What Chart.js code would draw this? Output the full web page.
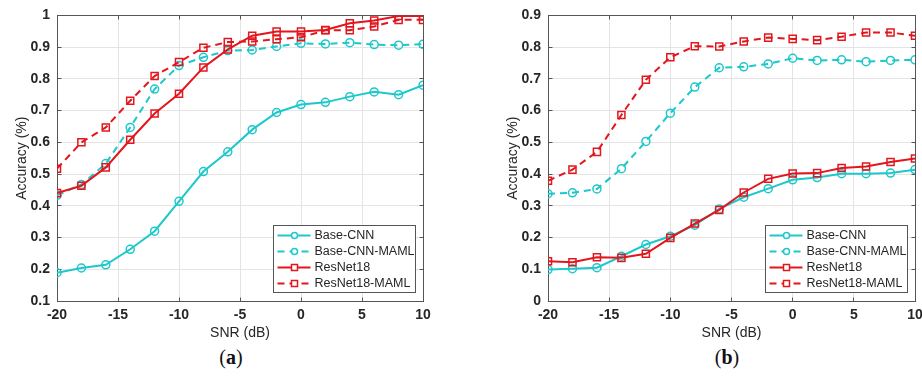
<!DOCTYPE html>
<html>
<head>
<meta charset="utf-8">
<script src="https://cdn.jsdelivr.net/npm/chart.js@4.4.1/dist/chart.umd.min.js"></script>
<style>
  body { margin: 0; background: #fff; }
  #page { position: relative; width: 922px; height: 382px; overflow: hidden; background: #fff; }
  canvas { position: absolute; top: 0; }
  #chartA { left: 0; }
  #chartB { left: 491px; }
  .cap { position: absolute; top: 347px; width: 60px; margin-left: -30px; text-align: center;
         font: 20px/20px "Liberation Serif", "DejaVu Serif", serif; color: #111; }
</style>
</head>
<body>
<div id="page">
  <canvas id="chartA" width="440" height="345"></canvas>
  <canvas id="chartB" width="440" height="345"></canvas>
  <div class="cap" style="left:231px">(<b>a</b>)</div>
  <div class="cap" style="left:727px">(<b>b</b>)</div>
</div>
<script>
// x values (SNR in dB) and axis ticks
var snr = [-20, -18, -16, -14, -12, -10, -8, -6, -4, -2, 0, 2, 4, 6, 8, 10];
var xTicks = [-20, -15, -10, -5, 0, 5, 10];
var yTicksA = [0.1, 0.2, 0.3, 0.4, 0.5, 0.6, 0.7, 0.8, 0.9, 1];
var yLabelsA = ['0.1', '0.2', '0.3', '0.4', '0.5', '0.6', '0.7', '0.8', '0.9', '1'];
var yTicksB = [0, 0.1, 0.2, 0.3, 0.4, 0.5, 0.6, 0.7, 0.8, 0.9];
var yLabelsB = ['0', '0.1', '0.2', '0.3', '0.4', '0.5', '0.6', '0.7', '0.8', '0.9'];
var seriesNames = ['Base-CNN', 'Base-CNN-MAML', 'ResNet18', 'ResNet18-MAML'];

// panel (a)
var baseCnnA     = [0.189, 0.204, 0.214, 0.263, 0.320, 0.414, 0.508, 0.570, 0.640, 0.694, 0.719, 0.726, 0.744, 0.759, 0.750, 0.780];
var baseCnnMamlA = [0.433, 0.467, 0.533, 0.647, 0.768, 0.842, 0.868, 0.889, 0.891, 0.902, 0.912, 0.910, 0.914, 0.908, 0.906, 0.909];
var resnetA      = [0.440, 0.463, 0.521, 0.608, 0.691, 0.753, 0.836, 0.893, 0.936, 0.949, 0.949, 0.954, 0.975, 0.984, 0.998, 0.998];
var resnetMamlA  = [0.517, 0.600, 0.647, 0.731, 0.809, 0.853, 0.898, 0.916, 0.918, 0.925, 0.931, 0.953, 0.953, 0.965, 0.986, 0.986];

// panel (b)
var baseCnnB     = [0.099, 0.102, 0.105, 0.141, 0.178, 0.204, 0.239, 0.290, 0.327, 0.354, 0.382, 0.389, 0.401, 0.401, 0.403, 0.414];
var baseCnnMamlB = [0.338, 0.341, 0.353, 0.417, 0.503, 0.592, 0.674, 0.735, 0.738, 0.747, 0.765, 0.758, 0.760, 0.754, 0.758, 0.760];
var resnetB      = [0.125, 0.122, 0.138, 0.136, 0.149, 0.199, 0.244, 0.287, 0.342, 0.385, 0.402, 0.403, 0.419, 0.424, 0.438, 0.449];
var resnetMamlB  = [0.379, 0.414, 0.470, 0.586, 0.697, 0.768, 0.803, 0.802, 0.818, 0.830, 0.826, 0.822, 0.833, 0.846, 0.846, 0.836];

var CYAN = '#1cc8cc';
var RED = '#e3161d';
var INK = '#262626';
var FRAME = '#555555';

Chart.defaults.font.family = '"Liberation Sans", Arial, sans-serif';

function makeDatasets(values) {
    return values.map(function (vals, i) {
        var isRes = i >= 2;
        var isMaml = i % 2 === 1;
        var color = isRes ? RED : CYAN;
        return {
            label: seriesNames[i],
            data: vals.map(function (v, k) { return { x: snr[k], y: v }; }),
            borderColor: color,
            borderWidth: 2,
            borderDash: isMaml ? [7, 5] : [],
            pointStyle: isRes ? 'rect' : 'circle',
            pointRadius: isRes ? 5 : 4,
            pointBorderWidth: 1.5,
            pointBorderColor: color,
            pointBackgroundColor: 'rgba(0,0,0,0)',
            fill: false,
            tension: 0,
            order: 4 - i   // later series drawn on top, like MATLAB
        };
    });
}

function align(v) { return Math.round(v - 0.5) + 0.5; }

// box round the axes with small inward ticks on all four sides
var framePlugin = {
    id: 'frame',
    beforeDatasetsDraw: function (chart) {
        var ctx = chart.ctx, a = chart.chartArea;
        var xs = chart.scales.x, ys = chart.scales.y;
        var l = align(a.left), r = align(a.right), t = align(a.top), b = align(a.bottom);
        ctx.save();
        ctx.strokeStyle = FRAME;
        ctx.lineWidth = 1;
        ctx.strokeRect(l, t, r - l, b - t);
        ctx.beginPath();
        ys.ticks.forEach(function (tk) {
            var y = align(ys.getPixelForValue(tk.value));
            ctx.moveTo(l, y); ctx.lineTo(l + 4, y);
            ctx.moveTo(r, y); ctx.lineTo(r - 4, y);
        });
        xs.ticks.forEach(function (tk) {
            var x = align(xs.getPixelForValue(tk.value));
            ctx.moveTo(x, b); ctx.lineTo(x, b - 4);
            ctx.moveTo(x, t); ctx.lineTo(x, t + 4);
        });
        ctx.stroke();
        ctx.restore();
    }
};

// MATLAB style legend box in the lower right corner
var boxLegend = {
    id: 'boxLegend',
    afterDraw: function (chart) {
        var ctx = chart.ctx, a = chart.chartArea;
        var w = 142, h = 67;
        var left = Math.round(a.right - 8 - w) + 0.5;
        var top = Math.round(a.bottom - 9 - h) + 0.5;
        ctx.save();
        ctx.fillStyle = '#fff';
        ctx.fillRect(left, top, w, h);
        ctx.strokeStyle = FRAME;
        ctx.lineWidth = 1;
        ctx.strokeRect(left, top, w, h);
        chart.data.datasets.forEach(function (ds, i) {
            var y = top + 10 + i * 16;
            var mx = left + 21;
            ctx.strokeStyle = ds.borderColor;
            ctx.lineWidth = 2;
            ctx.setLineDash(ds.borderDash);
            ctx.beginPath();
            ctx.moveTo(left + 4, y);
            ctx.lineTo(left + 37, y);
            ctx.stroke();
            ctx.setLineDash([]);
            ctx.lineWidth = 1.5;
            ctx.beginPath();
            if (ds.pointStyle === 'rect') {
                ctx.rect(mx - 3, y - 3, 6, 6);
            } else {
                ctx.arc(mx, y, 3, 0, Math.PI * 2);
            }
            ctx.fillStyle = '#fff';
            ctx.fill();
            ctx.stroke();
            ctx.fillStyle = INK;
            ctx.font = '12.5px "Liberation Sans", Arial, sans-serif';
            ctx.textBaseline = 'middle';
            ctx.textAlign = 'left';
            ctx.fillText(ds.label, left + 41, y + 0.5);
        });
        ctx.restore();
    }
};

function makeOptions(yTicks, yLabels, padRight) {
    return {
        responsive: false,
        animation: false,
        devicePixelRatio: 1,
        layout: { padding: { left: 0, right: padRight, top: 15, bottom: 0 } },
        scales: {
            x: {
                type: 'linear',
                min: xTicks[0],
                max: xTicks[xTicks.length - 1],
                afterBuildTicks: function (s) { s.ticks = xTicks.map(function (v) { return { value: v }; }); },
                afterFit: function (s) { s.height = 44; },
                grid: { color: '#e4e4e4', drawTicks: false },
                border: { color: FRAME },
                ticks: {
                    padding: 6,
                    color: INK,
                    font: { size: 14, weight: 'bold' },
                    callback: function (v) { return String(v); }
                },
                title: {
                    display: true,
                    text: 'SNR (dB)',
                    color: INK,
                    font: { size: 14 },
                    padding: { top: 0, bottom: 3 }
                }
            },
            y: {
                min: yTicks[0],
                max: yTicks[yTicks.length - 1],
                afterBuildTicks: function (s) { s.ticks = yTicks.map(function (v) { return { value: v }; }); },
                afterFit: function (s) { s.width = 57; },
                grid: { color: '#e4e4e4', drawTicks: false },
                border: { color: FRAME },
                ticks: {
                    padding: 7,
                    color: INK,
                    font: { size: 14, weight: 'bold' },
                    callback: function (v, i) { return yLabels[i]; }
                },
                title: {
                    display: true,
                    text: 'Accuracy (%)',
                    color: INK,
                    font: { size: 14 },
                    padding: { top: 14, bottom: 0 }
                }
            }
        },
        plugins: {
            legend: { display: false },
            tooltip: { enabled: false }
        }
    };
}

new Chart(document.getElementById('chartA').getContext('2d'), {
    type: 'line',
    data: { datasets: makeDatasets([baseCnnA, baseCnnMamlA, resnetA, resnetMamlA]) },
    options: makeOptions(yTicksA, yLabelsA, 17),
    plugins: [framePlugin, boxLegend]
});

new Chart(document.getElementById('chartB').getContext('2d'), {
    type: 'line',
    data: { datasets: makeDatasets([baseCnnB, baseCnnMamlB, resnetB, resnetMamlB]) },
    options: makeOptions(yTicksB, yLabelsB, 16),
    plugins: [framePlugin, boxLegend]
});
</script>
</body>
</html>
